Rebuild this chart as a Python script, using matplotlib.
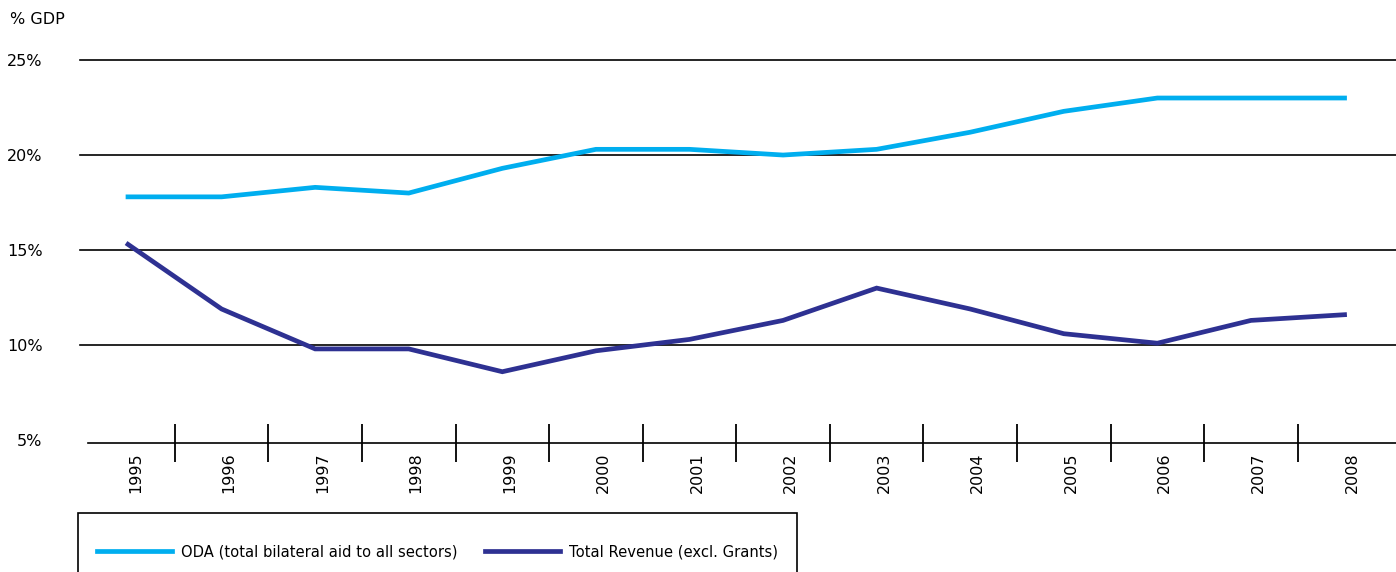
import numpy as np
import matplotlib.pyplot as plt
from matplotlib.patches import Rectangle

years = ["1995", "1996", "1997", "1998", "1999", "2000", "2001",
         "2002", "2003", "2004", "2005", "2006", "2007", "2008"]
oda = [17.8, 17.8, 18.3, 18.0, 19.3, 20.3, 20.3, 20.0, 20.3, 21.2, 22.3, 23.0, 23.0, 23.0]
revenue = [15.3, 11.9, 9.8, 9.8, 8.6, 9.7, 10.3, 11.3, 13.0, 11.9, 10.6, 10.1, 11.3, 11.6]
ytick_vals = [5, 10, 15, 20, 25]
ytick_labels = ["5%", "10%", "15%", "20%", "25%"]

plt.rcParams['font.family'] = ['DejaVu Sans']

W, H = 1396, 572
fig = plt.figure(figsize=(W / 100, H / 100), dpi=100)
ax = fig.add_axes([80 / W, (H - 443) / H, 1316 / W, 383 / H])

x = np.arange(len(years))
ax.plot(x, oda, color="#00aeef", lw=3.4, solid_joinstyle="miter",
        label="ODA (total bilateral aid to all sectors)")
ax.plot(x, revenue, color="#2e3192", lw=3.4, solid_joinstyle="miter",
        label="Total Revenue (excl. Grants)")

for v in ytick_vals[1:]:
    ax.axhline(v, color="black", lw=1.2, zorder=0, clip_on=False)

ax.set_xlim(-0.513, 13.55)
ax.set_ylim(4.85, 25)

for s in ["top", "right", "left"]:
    ax.spines[s].set_visible(False)
ax.spines["bottom"].set_bounds(-0.43, 13.55)
ax.spines["bottom"].set_linewidth(1.2)

ax.set_yticks(ytick_vals, ytick_labels, fontsize=11.5)
ax.tick_params(axis="y", length=0, pad=27)

ax.set_xticks(x + 0.08, years, rotation=90, fontsize=11.5, va="top")
ax.set_xticks(x[:-1] + 0.5, minor=True)
ax.tick_params(axis="x", which="major", length=0, pad=7)
ax.tick_params(axis="x", which="minor", direction="inout", length=28, width=1.3)

fig.text(10 / W, 1 - 20 / H, "% GDP", fontsize=11.5, va="center", ha="left")

# legend box runs off the bottom edge
fig.patches.append(Rectangle((78 / W, -0.05), (797 - 78) / W, 0.05 + (H - 513) / H,
                             transform=fig.transFigure, fill=False,
                             edgecolor="black", lw=1.2))
fig.legend(loc="center left", bbox_to_anchor=(97 / W, 1 - 552 / H), ncol=2,
           frameon=False, fontsize=10.6, handlelength=5.1, handletextpad=0.6,
           columnspacing=1.85, borderpad=0, borderaxespad=0)

fig.savefig("out.png", dpi=100)
